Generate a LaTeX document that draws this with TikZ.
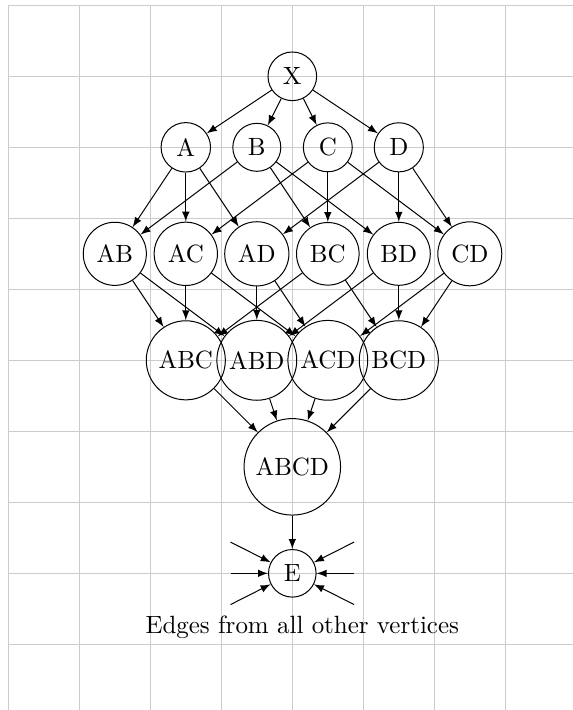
\documentclass[tikz,border=0pt]{standalone}
\usetikzlibrary{arrows}
\begin{document}
\begin{tikzpicture}[
  vtx/.style={circle,draw,thin},
  arr/.style={-latex,thin},
  gridline/.style={gray!40,line width=0.4pt}
]
\useasboundingbox (-4.117,-8.925) rectangle (3.953,1.075);
\begin{scope}
  \clip (-4.117,-8.925) rectangle (3.953,1.075);
  \draw[gridline] (-4,-9) grid (4,1);
\end{scope}

% top vertex
\node[vtx] (X) at (0,0) {X};

% singletons
\node[vtx] (A) at (-1.5,-1) {A};
\node[vtx] (B) at (-0.5,-1) {B};
\node[vtx] (C) at (0.5,-1) {C};
\node[vtx] (D) at (1.5,-1) {D};

% pairs
\node[vtx] (AB) at (-2.5,-2.5) {AB};
\node[vtx] (AC) at (-1.5,-2.5) {AC};
\node[vtx] (AD) at (-0.5,-2.5) {AD};
\node[vtx] (BC) at (0.5,-2.5) {BC};
\node[vtx] (BD) at (1.5,-2.5) {BD};
\node[vtx] (CD) at (2.5,-2.5) {CD};

% triples
\node[vtx] (ABC) at (-1.5,-4) {ABC};
\node[vtx] (ABD) at (-0.5,-4) {ABD};
\node[vtx] (ACD) at (0.5,-4) {ACD};
\node[vtx] (BCD) at (1.5,-4) {BCD};

% full set
\node[vtx] (ABCD) at (0,-5.5) {ABCD};

% sink
\node[vtx] (E) at (0,-7) {E};
\node (note) at (0.14,-7.76) {Edges from all other vertices};

\coordinate (l1) at (-0.87,-6.56);
\coordinate (l2) at (-0.87,-7);
\coordinate (l3) at (-0.87,-7.44);
\coordinate (r1) at (0.87,-6.56);
\coordinate (r2) at (0.87,-7);
\coordinate (r3) at (0.87,-7.44);

\foreach \t in {A,B,C,D} \draw[arr] (X) -- (\t);

\draw[arr] (A) -- (AB); \draw[arr] (A) -- (AC); \draw[arr] (A) -- (AD);
\draw[arr] (B) -- (AB); \draw[arr] (B) -- (BC); \draw[arr] (B) -- (BD);
\draw[arr] (C) -- (AC); \draw[arr] (C) -- (BC); \draw[arr] (C) -- (CD);
\draw[arr] (D) -- (AD); \draw[arr] (D) -- (BD); \draw[arr] (D) -- (CD);

\draw[arr] (AB) -- (ABC); \draw[arr] (AB) -- (ABD);
\draw[arr] (AC) -- (ABC); \draw[arr] (AC) -- (ACD);
\draw[arr] (AD) -- (ABD); \draw[arr] (AD) -- (ACD);
\draw[arr] (BC) -- (ABC); \draw[arr] (BC) -- (BCD);
\draw[arr] (BD) -- (ABD); \draw[arr] (BD) -- (BCD);
\draw[arr] (CD) -- (ACD); \draw[arr] (CD) -- (BCD);

\foreach \t in {ABC,ABD,ACD,BCD} \draw[arr] (\t) -- (ABCD);

\draw[arr] (ABCD) -- (E);
\foreach \s in {l1,l2,l3,r1,r2,r3} \draw[arr] (\s) -- (E);
\end{tikzpicture}
\end{document}
